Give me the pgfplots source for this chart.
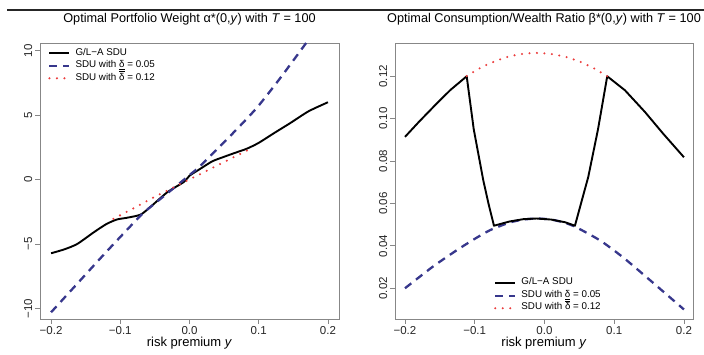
\documentclass[border=0pt]{standalone}
\usepackage{fontspec}
\setmainfont{Liberation Sans}
\usepackage{pgfplots}
\pgfplotsset{compat=1.18}
\definecolor{sduBlue}{RGB}{55,55,140}
\definecolor{sduRed}{RGB}{235,60,60}
\definecolor{boxGray}{RGB}{135,135,135}
\newcommand{\ulD}{\underline{δ}}
\newcommand{\olD}{\ensuremath{\overline{\mbox{δ}}}}

\pgfplotsset{
 rstyle/.style={
  scale only axis, anchor=south west,
  axis line style={boxGray, line width=0.8pt},
  tick style={boxGray, line width=0.8pt},
  tick align=outside, major tick length=5pt,
  xtick pos=bottom, ytick pos=left,
  /pgf/number format/assume math mode=true,
  tick label style={font=\fontsize{11.5}{13}\selectfont, text=black!85},
  xticklabel style={anchor=base, yshift=-10.5pt},
  yticklabel style={xshift=-3pt, rotate=90, anchor=base},
  title style={font=\fontsize{12.7}{14}\selectfont, at={(axis description cs:0.5,1)}, anchor=base, yshift=14.5pt},
  xlabel style={font=\fontsize{13}{15}\selectfont, at={(axis description cs:0.5,-0.098)}, anchor=base},
  legend cell align=left,
  legend style={draw=none, fill=none, inner sep=0pt, font=\fontsize{9.8}{11}\selectfont,
    nodes={inner sep=0pt, text height=8pt, text depth=4.5pt},
    /tikz/every odd column/.append style={column sep=5pt}},
  legend image code/.code={\draw[##1] (0pt,0pt) -- (20pt,0pt);},
  xtick={-0.2,-0.1,0,0.1,0.2},
  xticklabels={−0.2,−0.1,0.0,0.1,0.2},
 },
 glablack/.style={black, line width=1.9pt, line join=round},
 sdublue/.style={sduBlue, line width=2.3pt, dash pattern=on 8pt off 6pt},
 sdured/.style={sduRed, line width=2.3pt, line cap=round, dash pattern=on 0pt off 7.5pt},
}

\pgfplotstableread{
x y
-0.2 -5.72
-0.18 -5.4
-0.162 -4.99
-0.138 -4.08
-0.12 -3.45
-0.105 -3.1
-0.09 -2.96
-0.0707 -2.72
-0.056 -2.1
-0.032 -0.98
-0.008 -0.18
0.0 0.3
0.016 0.85
0.033 1.42
0.0495 1.76
0.065 2.06
0.083 2.4
0.1 2.85
0.122 3.6
0.146 4.4
0.172 5.3
0.2 6.0
}\alphaGLA

\pgfplotstableread{
x y
-0.2 -10.3
-0.16 -7.95
-0.12 -5.6
-0.0707 -2.8
-0.05 -1.85
-0.03 -0.98
0.0 0.35
0.016 1.08
0.0664 3.8
0.0977 5.6
0.13 7.8
0.1674 10.52
0.2 13.0
}\alphaLow

\pgfplotstableread{
x y
-0.11 -3.05
-0.08 -2.2
-0.056 -1.5
-0.032 -0.85
-0.008 -0.2
0.016 0.44
0.0447 1.22
0.0736 2.0
0.083 2.25
}\alphaHigh

\pgfplotstableread{
x y
-0.2 0.0914
-0.18 0.0985
-0.157 0.1063
-0.135 0.1135
-0.1115 0.1200
-0.1014 0.0950
-0.0877 0.0709
-0.0803 0.0600
-0.0724 0.0495
-0.05 0.0515
-0.03 0.0526
-0.011 0.0529
0.01 0.0524
0.03 0.0511
0.0437 0.0495
0.0524 0.0600
0.0628 0.0725
0.0768 0.0950
0.09 0.1200
0.1154 0.1134
0.144 0.1032
0.17 0.0930
0.2 0.0818
}\betaGLA

\pgfplotstableread{
x y
-0.2 0.0200
-0.16 0.0302
-0.126 0.0379
-0.1 0.0433
-0.078 0.0474
-0.05 0.0510
-0.03 0.0524
-0.011 0.0529
0.01 0.0524
0.03 0.0508
0.046 0.0487
0.08 0.0425
0.113 0.0345
0.15 0.0242
0.2 0.0100
}\betaLow

\pgfplotstableread{
x y
-0.1115 0.1201
-0.09 0.1243
-0.07 0.1272
-0.05 0.1294
-0.03 0.1306
-0.011 0.1310
0.01 0.1305
0.03 0.1292
0.05 0.1270
0.07 0.1239
0.09 0.1200
}\betaHigh

\begin{document}
\begin{tikzpicture}[x=1pt,y=1pt]
\useasboundingbox (0,0) rectangle (704,355);
\draw[line width=2.5pt, black!85] (7,345) -- (704,345);

\begin{axis}[rstyle,
  at={(40pt,36pt)}, width=299pt, height=276pt,
  xmin=-0.216, xmax=0.216, ymin=-10.82, ymax=10.6,
  ytick={-10,-5,0,5,10}, yticklabels={−10,−5,0,5,10},
  title={Optimal Portfolio Weight α*(0,\textit{y}) with \textit{T} = 100},
  xlabel={risk premium \textit{y}},
  legend style={at={(axis description cs:0.027,0.986)}, anchor=north west},
]
\addlegendimage{glablack}
\addlegendentry{G/L−A SDU}
\addlegendimage{sdublue}
\addlegendentry{SDU with \ulD{} = 0.05}
\addlegendimage{sdured}
\addlegendentry{SDU with \olD{} = 0.12}
\addplot[glablack, smooth, tension=0.4, forget plot] table[x=x,y=y] {\alphaGLA};
\addplot[sdublue, smooth, tension=0.4, forget plot] table[x=x,y=y] {\alphaLow};
\addplot[sdured, smooth, tension=0.4, forget plot] table[x=x,y=y] {\alphaHigh};
\end{axis}

\begin{axis}[rstyle,
  at={(395pt,36pt)}, width=298pt, height=276pt,
  xmin=-0.2143, xmax=0.2130, ymin=0.0055, ymax=0.1357,
  ytick={0.02,0.04,0.06,0.08,0.10,0.12}, yticklabels={0.02,0.04,0.06,0.08,0.10,0.12},
  title={Optimal Consumption/Wealth Ratio β*(0,\textit{y}) with \textit{T} = 100},
  xlabel={risk premium \textit{y}},
  legend style={at={(axis description cs:0.332,0.153)}, anchor=north west},
]
\addlegendimage{glablack}
\addlegendentry{G/L−A SDU}
\addlegendimage{sdublue}
\addlegendentry{SDU with \ulD{} = 0.05}
\addlegendimage{sdured}
\addlegendentry{SDU with \olD{} = 0.12}
\addplot[sdublue, smooth, tension=0.4, forget plot] table[x=x,y=y] {\betaLow};
\addplot[glablack, forget plot] table[x=x,y=y] {\betaGLA};
\addplot[sdured, smooth, tension=0.4, forget plot] table[x=x,y=y] {\betaHigh};
\end{axis}
\end{tikzpicture}
\end{document}
